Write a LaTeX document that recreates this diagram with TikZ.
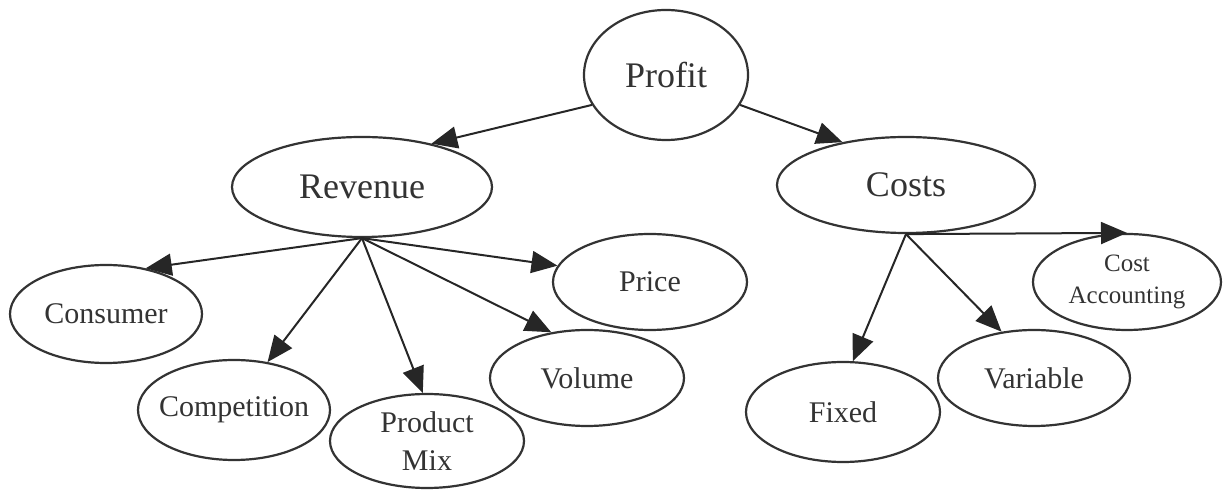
\documentclass[tikz,border=0pt]{standalone}
\usepackage{fontspec}
\setmainfont{Liberation Serif}
\usetikzlibrary{arrows.meta,shapes.geometric}
\tikzset{
  ell/.style={ellipse, draw=black!80, line width=1.1pt, inner sep=0pt, align=center, text=black!80},
  big/.style={font=\fontsize{18}{22}\selectfont},
  mid/.style={font=\fontsize{15}{19}\selectfont},
  small/.style={font=\fontsize{12.5}{16}\selectfont},
  arr/.style={draw=black!85, line width=1pt, -{Triangle[length=13pt,width=11pt]}}
}
\begin{document}
\begin{tikzpicture}[x=0.5pt,y=-0.5pt]
\useasboundingbox (0,0) rectangle (1223,491);
% nodes (centres in px; sizes in pt = radius in px)
\node[ell,big,minimum width=82pt,minimum height=65pt] (profit) at (666,75) {Profit};
\node[ell,big,minimum width=130pt,minimum height=50pt] (rev) at (362,187) {Revenue};
\node[ell,big,minimum width=129pt,minimum height=48pt] (costs) at (906,185) {Costs};
\node[ell,mid,minimum width=96pt,minimum height=49pt] (cons) at (106,314) {\makebox[0pt]{Consumer}};
\node[ell,mid,minimum width=96pt,minimum height=50pt] (comp) at (234,410) {\makebox[0pt]{Competition}};
\node[ell,mid,minimum width=97pt,minimum height=47pt] (prod) at (427,441) {Product\\Mix};
\node[ell,mid,minimum width=97pt,minimum height=48pt] (vol) at (587,378) {Volume};
\node[ell,mid,minimum width=97pt,minimum height=48pt] (price) at (650,282) {Price};
\node[ell,mid,minimum width=97pt,minimum height=50pt] (fixed) at (843,412) {Fixed};
\node[ell,mid,minimum width=96pt,minimum height=48pt] (var) at (1034,378) {Variable};
\node[ell,small,minimum width=94pt,minimum height=48pt] (ca) at (1127,282) {Cost\\Accounting};
% connectors
\draw[arr] (profit.202) -- (rev.32);
\draw[arr] (profit.338) -- (costs.146);
\draw[arr] (rev.south) -- (cons.49);
\draw[arr] (rev.south) -- (comp.55);
\draw[arr] (rev.south) -- (prod.95);
\draw[arr] (rev.south) -- (vol.128);
\draw[arr] (rev.south) -- (price.170);
\draw[arr] (costs.south) -- (fixed.79);
\draw[arr] (costs.south) -- (var.125);
\draw[arr] (costs.south) -- (ca.north);
\end{tikzpicture}
\end{document}
